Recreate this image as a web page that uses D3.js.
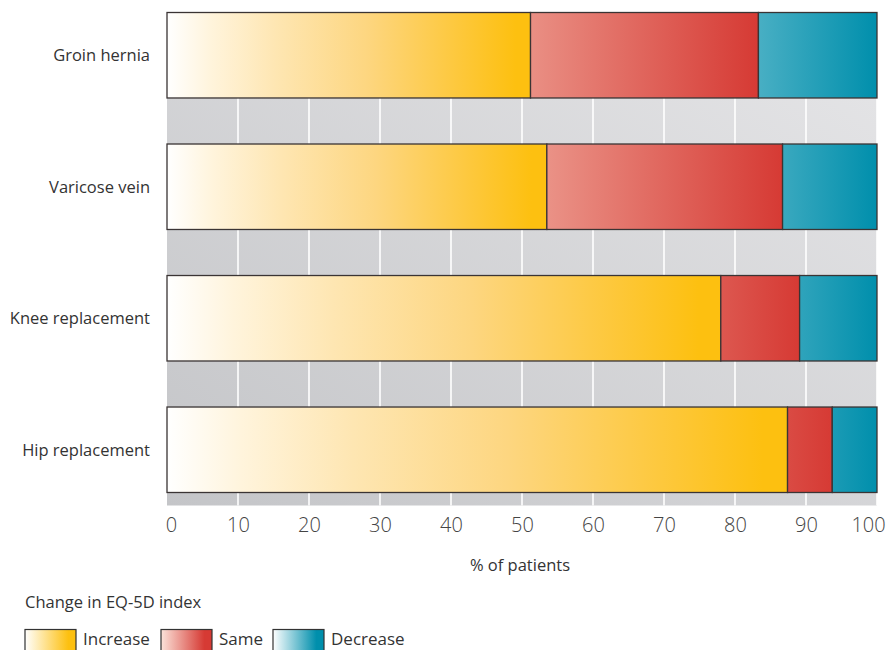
<!DOCTYPE html>
<html>
<head>
<meta charset="utf-8">
<script src="https://cdn.jsdelivr.net/npm/d3@7"></script>
<style>
  html, body { margin: 0; padding: 0; background: #fff; }
  svg { display: block; font-family: "Open Sans", "Noto Sans", sans-serif; }
</style>
</head>
<body>
<svg id="chart" width="886" height="650"></svg>
<script>
// Procedures and share of patients (%) by change in EQ-5D index
const categories = ["Groin hernia", "Varicose vein", "Knee replacement", "Hip replacement"];
const seriesNames = ["Increase", "Same", "Decrease"];
const increase = [51.2, 53.5, 78.0, 87.4];
const same = [32.1, 33.2, 11.1, 6.3];
const decrease = [16.7, 13.3, 10.9, 6.3];
const xTicks = [0, 10, 20, 30, 40, 50, 60, 70, 80, 90, 100];
const xLabel = "% of patients";
const legendTitle = "Change in EQ-5D index";

const colors = { Increase: "#fdc010", Same: "#d63a34", Decrease: "#008fac" };
// lighter end of each gradient
const lightColors = { Increase: "#ffffff", Same: "#ffeedd", Decrease: "#ffffff" };

const svg = d3.select("#chart");
const defs = svg.append("defs");

const x = d3.scaleLinear().domain([0, 100]).range([167, 877]);
const y = d3.scaleBand().domain(categories).range([12.5, 492.5]).paddingInner(0.35).paddingOuter(0);

const plotTop = y(categories[0]);
const plotBottom = y(categories[categories.length - 1]) + y.bandwidth() + 13;

// grey plot background with a soft diagonal shading
const bgGrad = defs.append("linearGradient").attr("id", "bg-grad")
  .attr("x1", "0%").attr("y1", "100%").attr("x2", "100%").attr("y2", "0%");
bgGrad.append("stop").attr("offset", "0%").attr("stop-color", "#c4c5c8");
bgGrad.append("stop").attr("offset", "100%").attr("stop-color", "#e6e6e8");

svg.append("rect")
  .attr("x", x(0)).attr("y", plotTop)
  .attr("width", x(100) - x(0)).attr("height", plotBottom - plotTop)
  .attr("fill", "url(#bg-grad)");

// vertical white gridlines
svg.append("g").selectAll("line")
  .data(xTicks.filter(t => t > 0))
  .join("line")
  .attr("x1", d => x(d)).attr("x2", d => x(d))
  .attr("y1", plotTop).attr("y2", plotBottom)
  .attr("stroke", "#ffffff").attr("stroke-width", 1.6);

// stacked rows
const rows = categories.map((c, i) => {
  const vals = [increase[i], same[i], decrease[i]];
  let acc = 0;
  return seriesNames.map((s, j) => {
    const seg = { cat: c, idx: i, series: s, x0: acc, x1: acc + vals[j] };
    acc += vals[j];
    return seg;
  });
}).flat();

// fade length (in % units) of the Same / Decrease shading, anchored at each segment's right end
const fadeSpan = { Same: 68, Decrease: 59 };

rows.forEach((d, k) => {
  const id = "seg-grad-" + k;
  d.gid = id;
  const g = defs.append("linearGradient").attr("id", id);
  if (d.series === "Increase") {
    g.attr("x1", "0%").attr("x2", "100%").attr("y1", "0%").attr("y2", "0%");
    [[0, "#ffffff"], [0.12, "#fff4dc"], [0.3, "#fee6b2"], [0.55, "#fdd680"], [0.8, "#fdc83c"], [0.96, colors.Increase]]
      .forEach(([o, c]) => g.append("stop").attr("offset", o).attr("stop-color", c));
  } else {
    g.attr("gradientUnits", "userSpaceOnUse")
      .attr("x1", x(d.x1 - fadeSpan[d.series])).attr("x2", x(d.x1))
      .attr("y1", 0).attr("y2", 0);
    g.append("stop").attr("offset", 0).attr("stop-color", lightColors[d.series]);
    g.append("stop").attr("offset", 1).attr("stop-color", colors[d.series]);
  }
});

svg.append("g").selectAll("rect")
  .data(rows)
  .join("rect")
  .attr("x", d => x(d.x0))
  .attr("y", d => y(d.cat))
  .attr("width", d => x(d.x1) - x(d.x0))
  .attr("height", y.bandwidth())
  .attr("fill", d => `url(#${d.gid})`)
  .attr("stroke", "#3a3434")
  .attr("stroke-width", 1.3);

// category labels
svg.append("g").selectAll("text")
  .data(categories)
  .join("text")
  .attr("x", 150)
  .attr("y", d => y(d) + y.bandwidth() / 2)
  .attr("dy", "0.35em")
  .attr("text-anchor", "end")
  .attr("font-size", 16.5)
  .attr("fill", "#333")
  .text(d => d);

// x axis (labels only)
const xAxis = svg.append("g")
  .attr("transform", `translate(0, ${plotBottom})`)
  .call(d3.axisBottom(x).tickValues(xTicks).tickSize(0).tickPadding(12).tickFormat(d3.format("d")));
xAxis.select(".domain").remove();
xAxis.selectAll("text")
  .attr("font-size", 20)
  .attr("font-weight", 300)
  .attr("fill", "#444")
  .attr("font-family", "'Open Sans', sans-serif")
  .attr("dx", d => d === 0 ? 4 : (d === 100 ? -9 : 0));

svg.append("text")
  .attr("x", 520).attr("y", 571)
  .attr("text-anchor", "middle")
  .attr("font-size", 16.5)
  .attr("fill", "#333")
  .text(xLabel);

// legend
svg.append("text")
  .attr("x", 25).attr("y", 608)
  .attr("font-size", 16.5)
  .attr("fill", "#333")
  .text(legendTitle);

const legendX = [25, 161, 273];
seriesNames.forEach((s, i) => {
  const lg = defs.append("linearGradient").attr("id", "leg-grad-" + i)
    .attr("x1", "0%").attr("x2", "100%").attr("y1", "0%").attr("y2", "0%");
  lg.append("stop").attr("offset", 0).attr("stop-color", s === "Same" ? "#fbe3da" : "#ffffff");
  lg.append("stop").attr("offset", 0.85).attr("stop-color", colors[s]);
  lg.append("stop").attr("offset", 1).attr("stop-color", colors[s]);
});

const legend = svg.append("g").selectAll("g")
  .data(seriesNames)
  .join("g")
  .attr("transform", (d, i) => `translate(${legendX[i]}, 629.5)`);
legend.append("rect")
  .attr("width", 51).attr("height", 26)
  .attr("fill", (d, i) => `url(#leg-grad-${i})`)
  .attr("stroke", "#333").attr("stroke-width", 1.2);
legend.append("text")
  .attr("x", 58).attr("y", 15.5)
  .attr("font-size", 17)
  .attr("fill", "#333")
  .text(d => d);
</script>
</body>
</html>
